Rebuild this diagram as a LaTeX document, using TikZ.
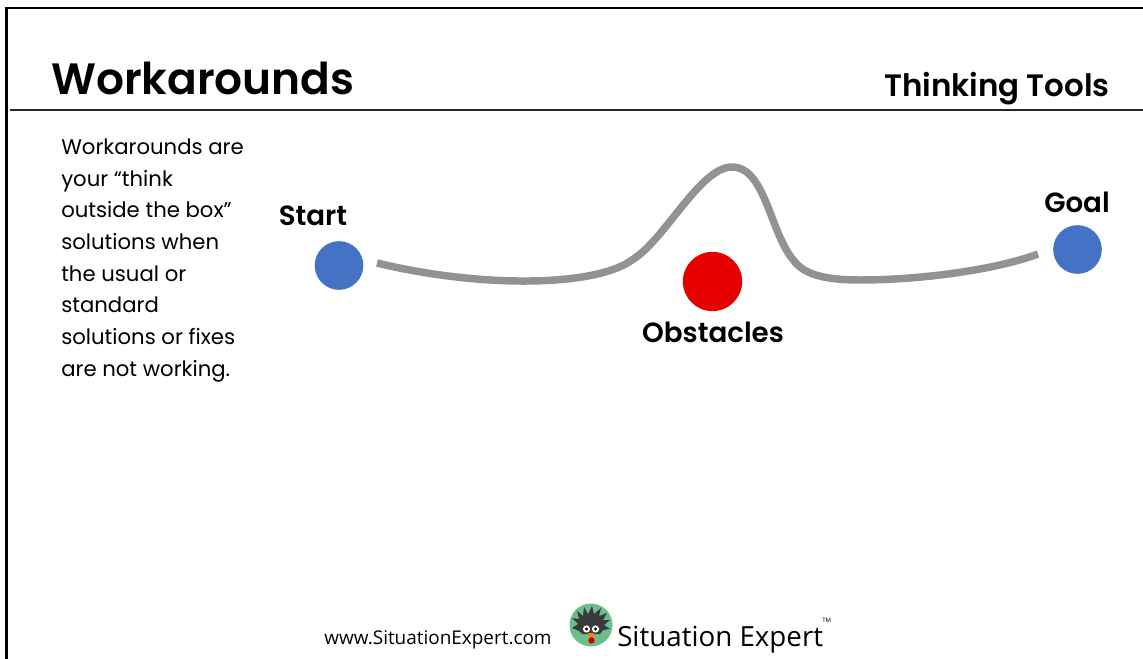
\documentclass[tikz,border=0pt]{standalone}
\usepackage{fontspec}
\setmainfont[BoldFont={Poppins SemiBold}]{Poppins}
\newfontfamily\logofont{Open Sans}
\tikzset{
  x=0.75pt,y=-0.75pt,
  txt/.style={inner sep=0pt,anchor=base west,font=\fontsize{15.9}{23.7}\selectfont,text=black},
  lbl/.style={inner sep=0pt,anchor=base,font=\bfseries\fontsize{20.8}{24}\selectfont,text=black},
  dot/.style={circle,inner sep=0pt,minimum size=36.5pt,fill=dotblue},
  pathline/.style={draw=pathgray,line width=5.6pt}
}
\definecolor{dotblue}{HTML}{4472C4}
\definecolor{dotred}{HTML}{E60000}
\definecolor{pathgray}{HTML}{929292}
\definecolor{logogreen}{HTML}{6CBF8B}
\definecolor{birdgray}{HTML}{3A3A3C}
\begin{document}
\begin{tikzpicture}
\useasboundingbox (0,0) rectangle (1143,659);
\fill[white] (0,0) rectangle (1143,659);
\draw[black,line width=2.2pt] (6.5,659) -- (6.5,8) -- (1143,8);
\draw[black!85,line width=1.5pt] (10,110) -- (1143,110);
\node[inner sep=0pt,anchor=base west,font=\bfseries\fontsize{32.9}{40}\selectfont] (title) at (51,95) {Workarounds};
\node[inner sep=0pt,anchor=base east,font=\bfseries\fontsize{23.2}{28}\selectfont] (tools) at (1110,97) {Thinking Tools};
\node[txt] (t1) at (61,155) {Workarounds are};
\node[txt] (t2) at (61,187) {your “think};
\node[txt] (t3) at (61,218) {outside the box”};
\node[txt] (t4) at (61,250) {solutions when};
\node[txt] (t5) at (61,282) {the usual or};
\node[txt] (t6) at (61,313) {standard};
\node[txt] (t7) at (61,345) {solutions or fixes};
\node[txt] (t8) at (61,377) {are not working.};
\node[dot] (start) at (339,265.5) {};
\node[dot] (goal) at (1077.5,249.5) {};
\node[dot,fill=dotred,minimum size=44.5pt] (obst) at (712.5,281.5) {};
\node[lbl] (startl) at (313,226) {Start};
\node[lbl] (goall) at (1077,213) {Goal};
\node[lbl] (obstl) at (713,343) {Obstacles};
\coordinate (a) at (377,263);
\coordinate (b) at (1038,254);
\draw[pathline] (a) .. controls (480,288) and (595,287) .. (632,260)
  .. controls (665,240) and (700,167) .. (732,167)
  .. controls (766,167) and (770,235) .. (795,262)
  .. controls (806,276) and (830,280) .. (860,280)
  .. controls (920,280) and (995,270) .. (b);
\node[inner sep=0pt,anchor=base,font=\logofont\fontsize{14.2}{18}\selectfont] (url) at (438,644) {www.SituationExpert.com};
\node[inner sep=0pt,anchor=base west,font=\logofont\fontsize{20.8}{26}\selectfont] (brand) at (617,646) {Situation Expert};
\node[inner sep=0pt,anchor=base west,font=\logofont\fontsize{4.5}{5}\selectfont] (tm) at (822,622) {TM};
\begin{scope}[shift={(591,625)}]
  \fill[logogreen] (0,0) circle (21.5);
  \fill[birdgray] (-19,3) -- (-13,-1) -- (-19,-7) -- (-12,-6) -- (-14,-14) -- (-8,-9) -- (-7,-18) -- (-3,-11) -- (1,-19) -- (3,-11) -- (10,-17) -- (8,-9) -- (16,-12) -- (12,-5) -- (19,-5) -- (13,0) -- (19,4) -- (12,5) -- (9,9) -- (-9,9) -- (-12,6) -- cycle;
  \fill[white] (-4.5,4) circle (3.6) (4.5,4) circle (3.6);
  \fill[black] (-4.5,4) circle (1.6) (4.5,4) circle (1.6);
  \fill[orange] (-3,8) -- (3,8) -- (2.5,14) -- (-1,14) -- cycle;
  \fill[red!80!black] (0.5,15.5) circle (3.2);
\end{scope}
\end{tikzpicture}
\end{document}
